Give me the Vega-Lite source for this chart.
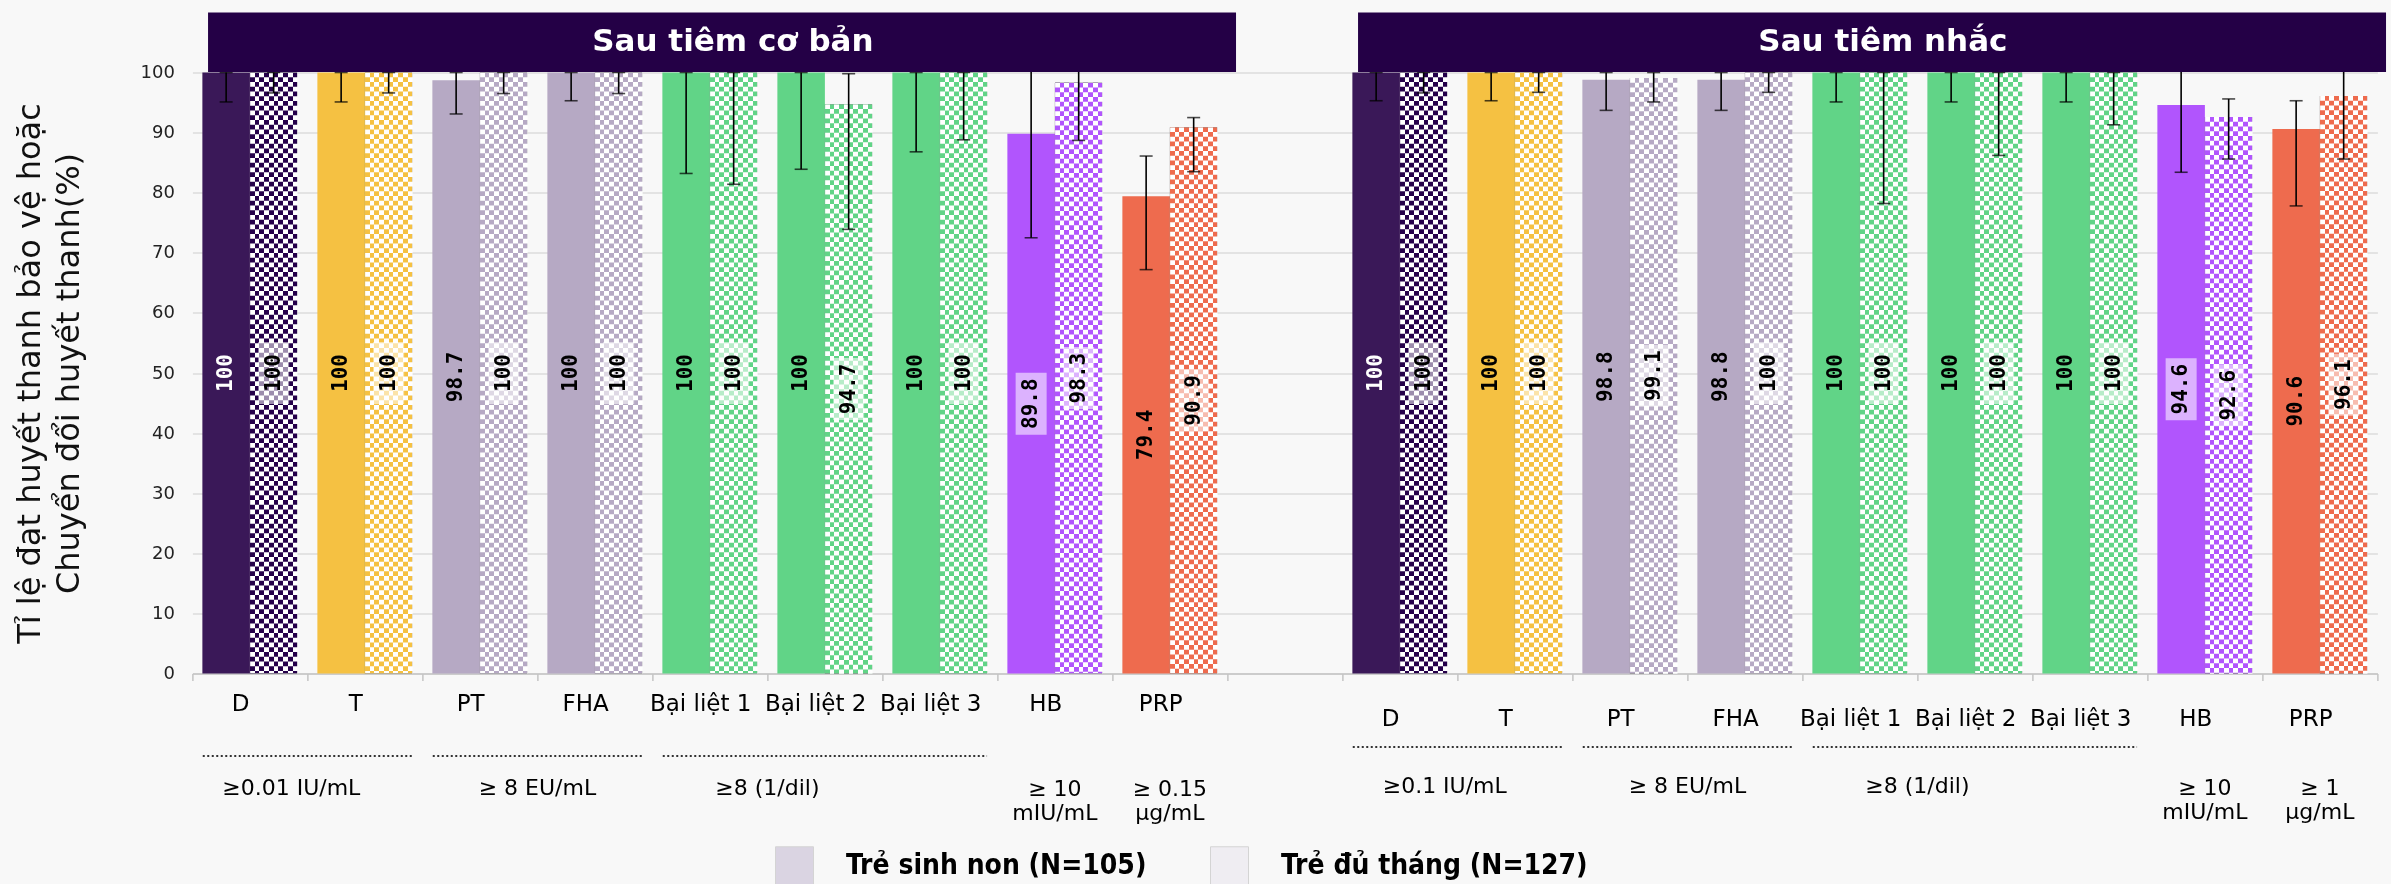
{
  "$schema": "https://vega.github.io/schema/vega-lite/v6.json",
  "width": 2185,
  "height": 601,
  "autosize": "none",
  "padding": {"left": 192.4, "top": 72.5, "right": 13.6, "bottom": 210.5},
  "background": "#f8f8f8",
  "config": {"view": {"stroke": null}, "font": "DejaVu Sans"},
  "datasets": {
    "bars": [
      {"x": "L:D", "cat": "D", "g": "pre", "v": 100, "lo": 95.1, "hi": 100},
      {"x": "L:D", "cat": "D", "g": "full", "v": 100, "lo": 96.6, "hi": 100},
      {"x": "L:T", "cat": "T", "g": "pre", "v": 100, "lo": 95.1, "hi": 100},
      {"x": "L:T", "cat": "T", "g": "full", "v": 100, "lo": 96.6, "hi": 100},
      {"x": "L:PT", "cat": "PT", "g": "pre", "v": 98.7, "lo": 93.1, "hi": 100},
      {"x": "L:PT", "cat": "PT", "g": "full", "v": 100, "lo": 96.5, "hi": 100},
      {"x": "L:FHA", "cat": "FHA", "g": "pre", "v": 100, "lo": 95.3, "hi": 100},
      {"x": "L:FHA", "cat": "FHA", "g": "full", "v": 100, "lo": 96.5, "hi": 100},
      {"x": "L:Bại liệt 1", "cat": "Bại liệt 1", "g": "pre", "v": 100, "lo": 83.2, "hi": 100},
      {"x": "L:Bại liệt 1", "cat": "Bại liệt 1", "g": "full", "v": 100, "lo": 81.4, "hi": 100},
      {"x": "L:Bại liệt 2", "cat": "Bại liệt 2", "g": "pre", "v": 100, "lo": 83.9, "hi": 100},
      {"x": "L:Bại liệt 2", "cat": "Bại liệt 2", "g": "full", "v": 94.7, "lo": 73.9, "hi": 99.8},
      {"x": "L:Bại liệt 3", "cat": "Bại liệt 3", "g": "pre", "v": 100, "lo": 86.8, "hi": 100},
      {"x": "L:Bại liệt 3", "cat": "Bại liệt 3", "g": "full", "v": 100, "lo": 88.8, "hi": 100},
      {"x": "L:HB", "cat": "HB", "g": "pre", "v": 89.8, "lo": 72.5, "hi": 101},
      {"x": "L:HB", "cat": "HB", "g": "full", "v": 98.3, "lo": 88.7, "hi": 101},
      {"x": "L:PRP", "cat": "PRP", "g": "pre", "v": 79.4, "lo": 67.2, "hi": 86.1},
      {"x": "L:PRP", "cat": "PRP", "g": "full", "v": 90.9, "lo": 83.5, "hi": 92.5},
      {"x": "R:D", "cat": "D", "g": "pre", "v": 100, "lo": 95.3, "hi": 100},
      {"x": "R:D", "cat": "D", "g": "full", "v": 100, "lo": 96.6, "hi": 100},
      {"x": "R:T", "cat": "T", "g": "pre", "v": 100, "lo": 95.3, "hi": 100},
      {"x": "R:T", "cat": "T", "g": "full", "v": 100, "lo": 96.7, "hi": 100},
      {"x": "R:PT", "cat": "PT", "g": "pre", "v": 98.8, "lo": 93.7, "hi": 100},
      {"x": "R:PT", "cat": "PT", "g": "full", "v": 99.1, "lo": 95.1, "hi": 100},
      {"x": "R:FHA", "cat": "FHA", "g": "pre", "v": 98.8, "lo": 93.7, "hi": 100},
      {"x": "R:FHA", "cat": "FHA", "g": "full", "v": 100, "lo": 96.7, "hi": 100},
      {"x": "R:Bại liệt 1", "cat": "Bại liệt 1", "g": "pre", "v": 100, "lo": 95.1, "hi": 100},
      {"x": "R:Bại liệt 1", "cat": "Bại liệt 1", "g": "full", "v": 100, "lo": 78.2, "hi": 100},
      {"x": "R:Bại liệt 2", "cat": "Bại liệt 2", "g": "pre", "v": 100, "lo": 95.1, "hi": 100},
      {"x": "R:Bại liệt 2", "cat": "Bại liệt 2", "g": "full", "v": 100, "lo": 86.2, "hi": 100},
      {"x": "R:Bại liệt 3", "cat": "Bại liệt 3", "g": "pre", "v": 100, "lo": 95.1, "hi": 100},
      {"x": "R:Bại liệt 3", "cat": "Bại liệt 3", "g": "full", "v": 100, "lo": 91.3, "hi": 100},
      {"x": "R:HB", "cat": "HB", "g": "pre", "v": 94.6, "lo": 83.4, "hi": 101},
      {"x": "R:HB", "cat": "HB", "g": "full", "v": 92.6, "lo": 85.6, "hi": 95.6},
      {"x": "R:PRP", "cat": "PRP", "g": "pre", "v": 90.6, "lo": 77.8, "hi": 95.3},
      {"x": "R:PRP", "cat": "PRP", "g": "full", "v": 96.1, "lo": 85.6, "hi": 101}
    ],
    "groups": [
      {"side": "L", "kind": "dot", "x": "L:D", "x2": "L:T", "a": "L:D", "t": "≥0.01 IU/mL"},
      {"side": "L", "kind": "dot", "x": "L:PT", "x2": "L:FHA", "a": "L:PT", "t": "≥ 8 EU/mL"},
      {"side": "L", "kind": "dot", "x": "L:Bại liệt 1", "x2": "L:Bại liệt 3", "a": "L:Bại liệt 1", "t": "≥8 (1/dil)"},
      {"side": "L", "kind": "one", "a": "L:HB", "t": "≥ 10\nmIU/mL"},
      {"side": "L", "kind": "one", "a": "L:PRP", "t": "≥ 0.15\nµg/mL"},
      {"side": "R", "kind": "dot", "x": "R:D", "x2": "R:T", "a": "R:D", "t": "≥0.1 IU/mL"},
      {"side": "R", "kind": "dot", "x": "R:PT", "x2": "R:FHA", "a": "R:PT", "t": "≥ 8 EU/mL"},
      {"side": "R", "kind": "dot", "x": "R:Bại liệt 1", "x2": "R:Bại liệt 3", "a": "R:Bại liệt 1", "t": "≥8 (1/dil)"},
      {"side": "R", "kind": "one", "a": "R:HB", "t": "≥ 10\nmIU/mL"},
      {"side": "R", "kind": "one", "a": "R:PRP", "t": "≥ 1\nµg/mL"}
    ],
    "heads": [
      {"x": "L:D", "x2": "L:PRP", "a": "L:Bại liệt 1", "t": "Sau tiêm cơ bản"},
      {"x": "R:D", "x2": "R:PRP", "a": "R:Bại liệt 1", "t": "Sau tiêm nhắc"}
    ],
    "leg": [
      {"lg": "Trẻ sinh non (N=105)"},
      {"lg": "Trẻ đủ tháng (N=127)"}
    ]
  },
  "resolve": {"scale": {"y": "independent"}},
  "layer": [
    {
      "encoding": {
        "x": {
          "field": "x",
          "type": "nominal",
          "scale": {
            "domain": ["L:D", "L:T", "L:PT", "L:FHA", "L:Bại liệt 1", "L:Bại liệt 2", "L:Bại liệt 3", "L:HB", "L:PRP", "gap", "R:D", "R:T", "R:PT", "R:FHA", "R:Bại liệt 1", "R:Bại liệt 2", "R:Bại liệt 3", "R:HB", "R:PRP"],
            "paddingInner": 0,
            "paddingOuter": 0
          },
          "axis": {"labels": false, "ticks": true, "tickBand": "extent", "tickSize": 7, "tickColor": "#c4c4c4", "tickWidth": 1.5, "domainColor": "#c4c4c4", "domainWidth": 1.5, "title": null, "grid": false}
        }
      },
      "layer": [
        {
          "data": {"name": "bars"},
          "transform": [{"filter": "datum.g == 'pre'"}],
          "mark": {"type": "bar"},
          "encoding": {
            "xOffset": {"field": "g", "type": "nominal", "scale": {"domain": ["pre", "full"], "paddingInner": 0, "paddingOuter": 0.21}},
            "y": {
              "field": "v",
              "type": "quantitative",
              "scale": {"domain": [0, 100], "nice": false},
              "axis": {
                "values": [0, 10, 20, 30, 40, 50, 60, 70, 80, 90, 100],
                "title": ["Tỉ lệ đạt huyết thanh bảo vệ hoặc", "Chuyển đổi huyết thanh(%)"],
                "titleFont": "DejaVu Sans",
                "titleFontSize": 32,
                "titleFontWeight": "normal",
                "titleColor": "#111111",
                "titlePadding": 55,
                "titleLineHeight": 39,
                "labelFont": "DejaVu Sans",
                "labelFontSize": 18,
                "labelColor": "#222222",
                "labelPadding": 18,
                "ticks": false,
                "domain": false,
                "grid": true,
                "gridColor": "#dcdcdc",
                "gridWidth": 1.5
              }
            },
            "fill": {
              "field": "cat",
              "type": "nominal",
              "scale": {
                "domain": ["D", "T", "PT", "FHA", "Bại liệt 1", "Bại liệt 2", "Bại liệt 3", "HB", "PRP"],
                "range": ["#3a1858", "#f5c142", "#b6a9c4", "#b6a9c4", "#61d487", "#61d487", "#61d487", "#b155fd", "#ee6b4e"]
              },
              "legend": null
            }
          }
        },
        {
          "data": {"name": "bars"},
          "transform": [{"filter": "datum.g == 'full'"}],
          "mark": {
            "type": "bar",
            "fill": {
              "gradient": "linear", "x1": 0, "y1": 0, "x2": 1, "y2": 0,
              "stops": [
                {"offset": 0, "color": "#000000"}, {"offset": 0.1, "color": "#000000"},
                {"offset": 0.1, "color": "#ffffff"}, {"offset": 0.2, "color": "#ffffff"},
                {"offset": 0.2, "color": "#000000"}, {"offset": 0.3, "color": "#000000"},
                {"offset": 0.3, "color": "#ffffff"}, {"offset": 0.4, "color": "#ffffff"},
                {"offset": 0.4, "color": "#000000"}, {"offset": 0.5, "color": "#000000"},
                {"offset": 0.5, "color": "#ffffff"}, {"offset": 0.6, "color": "#ffffff"},
                {"offset": 0.6, "color": "#000000"}, {"offset": 0.7, "color": "#000000"},
                {"offset": 0.7, "color": "#ffffff"}, {"offset": 0.8, "color": "#ffffff"},
                {"offset": 0.8, "color": "#000000"}, {"offset": 0.9, "color": "#000000"},
                {"offset": 0.9, "color": "#ffffff"}, {"offset": 1, "color": "#ffffff"}
              ]
            }
          },
          "encoding": {
            "xOffset": {"field": "g", "type": "nominal", "scale": {"domain": ["pre", "full"], "paddingInner": 0, "paddingOuter": 0.21}},
            "y": {"field": "v", "type": "quantitative"}
          }
        },
        {
          "data": {"name": "bars"},
          "transform": [{"filter": "datum.g == 'full'"}],
          "mark": {"type": "rule", "stroke": "#ffffff", "strokeWidth": 47, "strokeDash": [4.75, 4.75], "strokeCap": "butt", "blend": "difference"},
          "encoding": {
            "xOffset": {"field": "g", "type": "nominal", "scale": {"domain": ["pre", "full"], "paddingInner": 0, "paddingOuter": 0.21}},
            "y": {"field": "v", "type": "quantitative"},
            "y2": {"datum": 0}
          }
        },
        {
          "data": {"name": "bars"},
          "transform": [{"filter": "datum.g == 'full'"}],
          "mark": {"type": "bar", "blend": "screen"},
          "encoding": {
            "xOffset": {"field": "g", "type": "nominal", "scale": {"domain": ["pre", "full"], "paddingInner": 0, "paddingOuter": 0.21}},
            "y": {"field": "v", "type": "quantitative"},
            "fill": {
              "condition": {"test": "datum.cat == 'D'", "value": "#25004a"},
              "field": "cat",
              "type": "nominal",
              "legend": null
            }
          }
        },
        {
          "data": {"name": "bars"},
          "mark": {"type": "rule", "stroke": "#000000", "strokeWidth": 1.6},
          "encoding": {
            "xOffset": {"field": "g", "type": "nominal", "scale": {"domain": ["pre", "full"], "paddingInner": 0, "paddingOuter": 0.21}},
            "y": {"field": "lo", "type": "quantitative"},
            "y2": {"field": "hi"}
          }
        },
        {
          "data": {"name": "bars"},
          "mark": {"type": "tick", "color": "#000000", "thickness": 1.6, "size": 13},
          "encoding": {
            "xOffset": {"field": "g", "type": "nominal", "scale": {"domain": ["pre", "full"], "paddingInner": 0, "paddingOuter": 0.21}},
            "y": {"field": "lo", "type": "quantitative"}
          }
        },
        {
          "data": {"name": "bars"},
          "transform": [{"filter": "datum.hi <= 100"}],
          "mark": {"type": "tick", "color": "#000000", "thickness": 1.6, "size": 13},
          "encoding": {
            "xOffset": {"field": "g", "type": "nominal", "scale": {"domain": ["pre", "full"], "paddingInner": 0, "paddingOuter": 0.21}},
            "y": {"field": "hi", "type": "quantitative"}
          }
        },
        {
          "data": {"name": "heads"},
          "mark": {"type": "rect", "fill": "#240046"},
          "encoding": {
            "x": {"field": "x", "type": "nominal", "bandPosition": 0.136},
            "x2": {"field": "x2", "bandPosition": 1.075},
            "y": {"datum": 100.1},
            "y2": {"datum": 110}
          }
        },
        {
          "data": {"name": "heads"},
          "mark": {"type": "text", "font": "DejaVu Sans", "fontWeight": "bold", "fontSize": 31, "color": "#ffffff", "align": "center", "baseline": "middle"},
          "encoding": {
            "x": {"field": "a", "type": "nominal", "bandPosition": 0.7},
            "y": {"datum": 105},
            "text": {"field": "t"}
          }
        },
        {
          "data": {"name": "bars"},
          "transform": [{"filter": "datum.g == 'pre' && datum.x < 'M'"}],
          "mark": {"type": "text", "font": "DejaVu Sans", "fontSize": 23, "color": "#000000", "align": "center", "baseline": "middle"},
          "encoding": {
            "x": {"field": "x", "type": "nominal", "bandPosition": 0.42},
            "y": {"datum": -5.07},
            "text": {"field": "cat"}
          }
        },
        {
          "data": {"name": "bars"},
          "transform": [{"filter": "datum.g == 'pre' && datum.x > 'M'"}],
          "mark": {"type": "text", "font": "DejaVu Sans", "fontSize": 23, "color": "#000000", "align": "center", "baseline": "middle"},
          "encoding": {
            "x": {"field": "x", "type": "nominal", "bandPosition": 0.42},
            "y": {"datum": -7.57},
            "text": {"field": "cat"}
          }
        },
        {
          "data": {"name": "groups"},
          "transform": [{"filter": "datum.kind == 'dot' && datum.side == 'L'"}],
          "mark": {"type": "rule", "stroke": "#333333", "strokeWidth": 2.2, "strokeDash": [2, 2.5]},
          "encoding": {
            "x": {"field": "x", "type": "nominal", "bandPosition": 0.09},
            "x2": {"field": "x2", "bandPosition": 0.91},
            "y": {"datum": -13.73}
          }
        },
        {
          "data": {"name": "groups"},
          "transform": [{"filter": "datum.kind == 'dot' && datum.side == 'R'"}],
          "mark": {"type": "rule", "stroke": "#333333", "strokeWidth": 2.2, "strokeDash": [2, 2.5]},
          "encoding": {
            "x": {"field": "x", "type": "nominal", "bandPosition": 0.09},
            "x2": {"field": "x2", "bandPosition": 0.91},
            "y": {"datum": -12.23}
          }
        },
        {
          "data": {"name": "groups"},
          "transform": [{"filter": "datum.kind == 'dot' && datum.side == 'L' && datum.a != 'L:D'"}],
          "mark": {"type": "text", "font": "DejaVu Sans", "fontSize": 22, "color": "#000000", "align": "center", "baseline": "middle"},
          "encoding": {
            "x": {"field": "a", "type": "nominal", "bandPosition": 1},
            "y": {"datum": -19.13},
            "text": {"field": "t"}
          }
        },
        {
          "data": {"name": "groups"},
          "transform": [{"filter": "datum.a == 'L:D'"}],
          "mark": {"type": "text", "font": "DejaVu Sans", "fontSize": 22, "color": "#000000", "align": "center", "baseline": "middle"},
          "encoding": {
            "x": {"field": "a", "type": "nominal", "bandPosition": 0.86},
            "y": {"datum": -19.13},
            "text": {"field": "t"}
          }
        },
        {
          "data": {"name": "groups"},
          "transform": [{"filter": "datum.kind == 'dot' && datum.side == 'R' && datum.a != 'R:D'"}],
          "mark": {"type": "text", "font": "DejaVu Sans", "fontSize": 22, "color": "#000000", "align": "center", "baseline": "middle"},
          "encoding": {
            "x": {"field": "a", "type": "nominal", "bandPosition": 1},
            "y": {"datum": -18.72},
            "text": {"field": "t"}
          }
        },
        {
          "data": {"name": "groups"},
          "transform": [{"filter": "datum.a == 'R:D'"}],
          "mark": {"type": "text", "font": "DejaVu Sans", "fontSize": 22, "color": "#000000", "align": "center", "baseline": "middle"},
          "encoding": {
            "x": {"field": "a", "type": "nominal", "bandPosition": 0.89},
            "y": {"datum": -18.72},
            "text": {"field": "t"}
          }
        },
        {
          "data": {"name": "groups"},
          "transform": [{"filter": "datum.kind == 'one' && datum.side == 'L'"}],
          "mark": {"type": "text", "font": "DejaVu Sans", "fontSize": 22, "color": "#000000", "align": "center", "baseline": "middle", "lineBreak": "\n", "lineHeight": 24},
          "encoding": {
            "x": {"field": "a", "type": "nominal", "bandPosition": 0.5},
            "y": {"datum": -19.3},
            "text": {"field": "t"}
          }
        },
        {
          "data": {"name": "groups"},
          "transform": [{"filter": "datum.kind == 'one' && datum.side == 'R'"}],
          "mark": {"type": "text", "font": "DejaVu Sans", "fontSize": 22, "color": "#000000", "align": "center", "baseline": "middle", "lineBreak": "\n", "lineHeight": 24},
          "encoding": {
            "x": {"field": "a", "type": "nominal", "bandPosition": 0.5},
            "y": {"datum": -19.0},
            "text": {"field": "t"}
          }
        },
        {
          "data": {"name": "leg"},
          "mark": {"type": "square", "size": 4, "filled": true},
          "encoding": {
            "x": {"datum": "gap"},
            "y": {"datum": -200},
            "color": {
              "field": "lg",
              "type": "nominal",
              "scale": {"domain": ["Trẻ sinh non (N=105)", "Trẻ đủ tháng (N=127)"], "range": ["#dad4e2", "#efedf2"]},
              "legend": {
                "orient": "none",
                "legendX": 582.6,
                "legendY": 773.5,
                "direction": "horizontal",
                "title": null,
                "symbolType": "square",
                "symbolSize": 1444,
                "symbolOpacity": 1,
                "symbolStrokeColor": "#d4d4d4",
                "symbolStrokeWidth": 1,
                "labelFont": "Liberation Sans Narrow, DejaVu Sans Condensed, sans-serif",
                "labelFontWeight": "bold",
                "labelFontSize": 28,
                "labelColor": "#000000",
                "labelOffset": 32,
                "labelLimit": 600,
                "columnPadding": 61,
                "padding": 0
              }
            }
          }
        }
      ]
    },
    {
      "data": {"name": "bars"},
      "encoding": {
        "x": {"field": "x", "type": "nominal"},
        "xOffset": {"field": "g", "type": "nominal", "scale": {"domain": ["pre", "full"], "paddingInner": 0, "paddingOuter": 0.21}},
        "y": {"field": "v", "type": "quantitative", "scale": {"domain": [0, 200], "nice": false}, "axis": null}
      },
      "layer": [
        {
          "transform": [{"filter": "datum.g == 'full' || datum.cat == 'HB'"}],
          "mark": {"type": "point", "shape": "M-0.5,-1H0.5V1H-0.5Z", "filled": true, "fill": "#ffffff", "fillOpacity": 0.55, "strokeWidth": 0, "size": 3844}
        },
        {
          "mark": {"type": "text", "angle": 270, "font": "DejaVu Sans Mono", "fontWeight": "bold", "fontSize": 21, "align": "center", "baseline": "middle"},
          "encoding": {
            "text": {"field": "v", "type": "quantitative", "format": ".1~f"},
            "color": {"condition": {"test": "datum.cat == 'D' && datum.g == 'pre'", "value": "#ffffff"}, "value": "#000000"}
          }
        }
      ]
    }
  ]
}
